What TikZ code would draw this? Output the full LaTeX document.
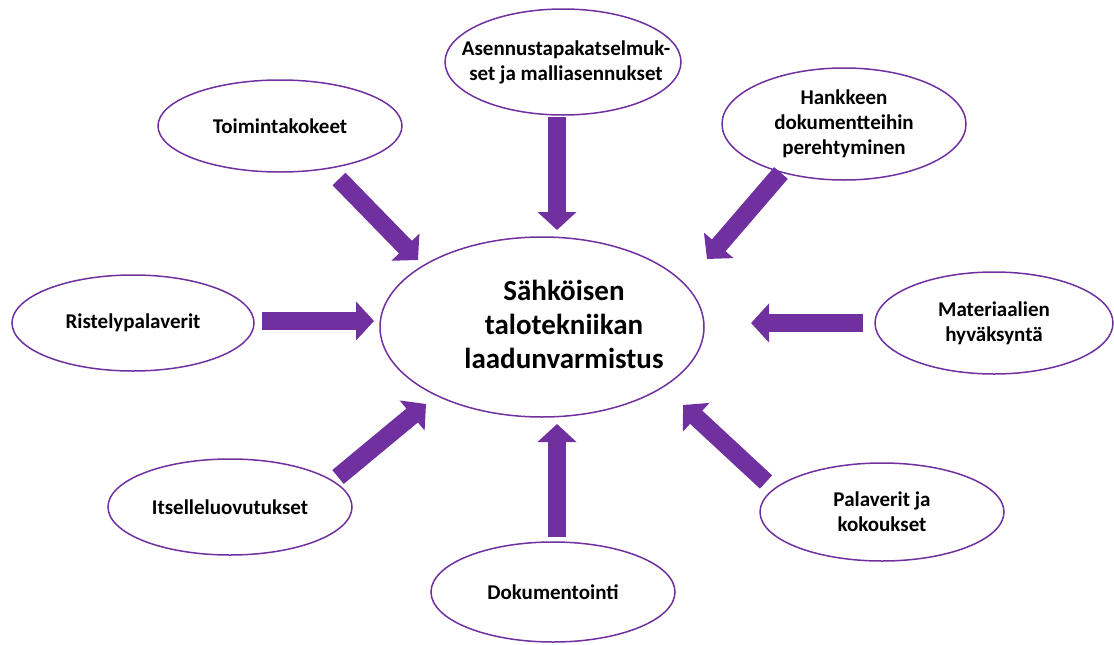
\documentclass[tikz,border=0pt]{standalone}
\usepackage{fontspec}
\setmainfont{Carlito}
\usetikzlibrary{shapes.geometric,arrows.meta}
\definecolor{purp}{HTML}{7030A0}
\tikzset{
  oval/.style={ellipse, draw=purp, line width=1.5pt, fill=white, inner sep=0pt,
    align=center, font=\fontsize{21}{25}\selectfont\bfseries},
  smalltext/.style={inner sep=0pt, align=center, font=\fontsize{21}{25}\selectfont\bfseries},
  bigtext/.style={inner sep=0pt, align=center, font=\fontsize{29}{34}\selectfont\bfseries},
  blockarrow/.style={draw=purp, line width=18pt, line cap=butt,
    -{Triangle[width=38pt,length=18pt]}}
}
\begin{document}
\begin{tikzpicture}[x=1pt,y=-1pt]
\useasboundingbox (0,0) rectangle (1114,645);
\node[oval, minimum width=324pt, minimum height=180pt] (c) at (542,327) {};
\node[bigtext] (ct) at (564,324) {Sähköisen\\talotekniikan\\laadunvarmistus};
\node[oval, minimum width=236pt, minimum height=106pt] (asen) at (563,62) {};
\node[smalltext] (asent) at (566,62) {Asennustapakatselmuk-\\set ja malliasennukset};
\node[oval, minimum width=244pt, minimum height=92pt] (toim) at (280,126) {Toimintakokeet};
\node[oval, minimum width=244pt, minimum height=112pt] (hank) at (844,124) {Hankkeen\\dokumentteihin\\perehtyminen};
\node[oval, minimum width=242pt, minimum height=96pt] (rist) at (133,323) {Ristelypalaverit};
\node[oval, minimum width=238pt, minimum height=102pt] (mat) at (994,323) {Materiaalien\\hyväksyntä};
\node[oval, minimum width=244pt, minimum height=96pt] (itse) at (230,507) {Itselleluovutukset};
\node[oval, minimum width=244pt, minimum height=100pt] (dok) at (553,592) {Dokumentointi};
\node[oval, minimum width=244pt, minimum height=98pt] (pala) at (882,512) {Palaverit ja\\kokoukset};

\coordinate (a1s) at (557,117);  \coordinate (a1e) at (557,230);
\coordinate (a2s) at (339,179);  \coordinate (a2e) at (418,260);
\coordinate (a3s) at (781,173);  \coordinate (a3e) at (707,259);
\coordinate (a4s) at (262,321);  \coordinate (a4e) at (374,321);
\coordinate (a5s) at (863,323);  \coordinate (a5e) at (751,323);
\coordinate (a6s) at (338,477);  \coordinate (a6e) at (426,404);
\coordinate (a7s) at (557,537);  \coordinate (a7e) at (557,424);
\coordinate (a8s) at (766,482);  \coordinate (a8e) at (683,405);

\draw[blockarrow] (a1s) -- (a1e);
\draw[blockarrow] (a2s) -- (a2e);
\draw[blockarrow] (a3s) -- (a3e);
\draw[blockarrow] (a4s) -- (a4e);
\draw[blockarrow] (a5s) -- (a5e);
\draw[blockarrow] (a6s) -- (a6e);
\draw[blockarrow] (a7s) -- (a7e);
\draw[blockarrow] (a8s) -- (a8e);
\end{tikzpicture}
\end{document}
